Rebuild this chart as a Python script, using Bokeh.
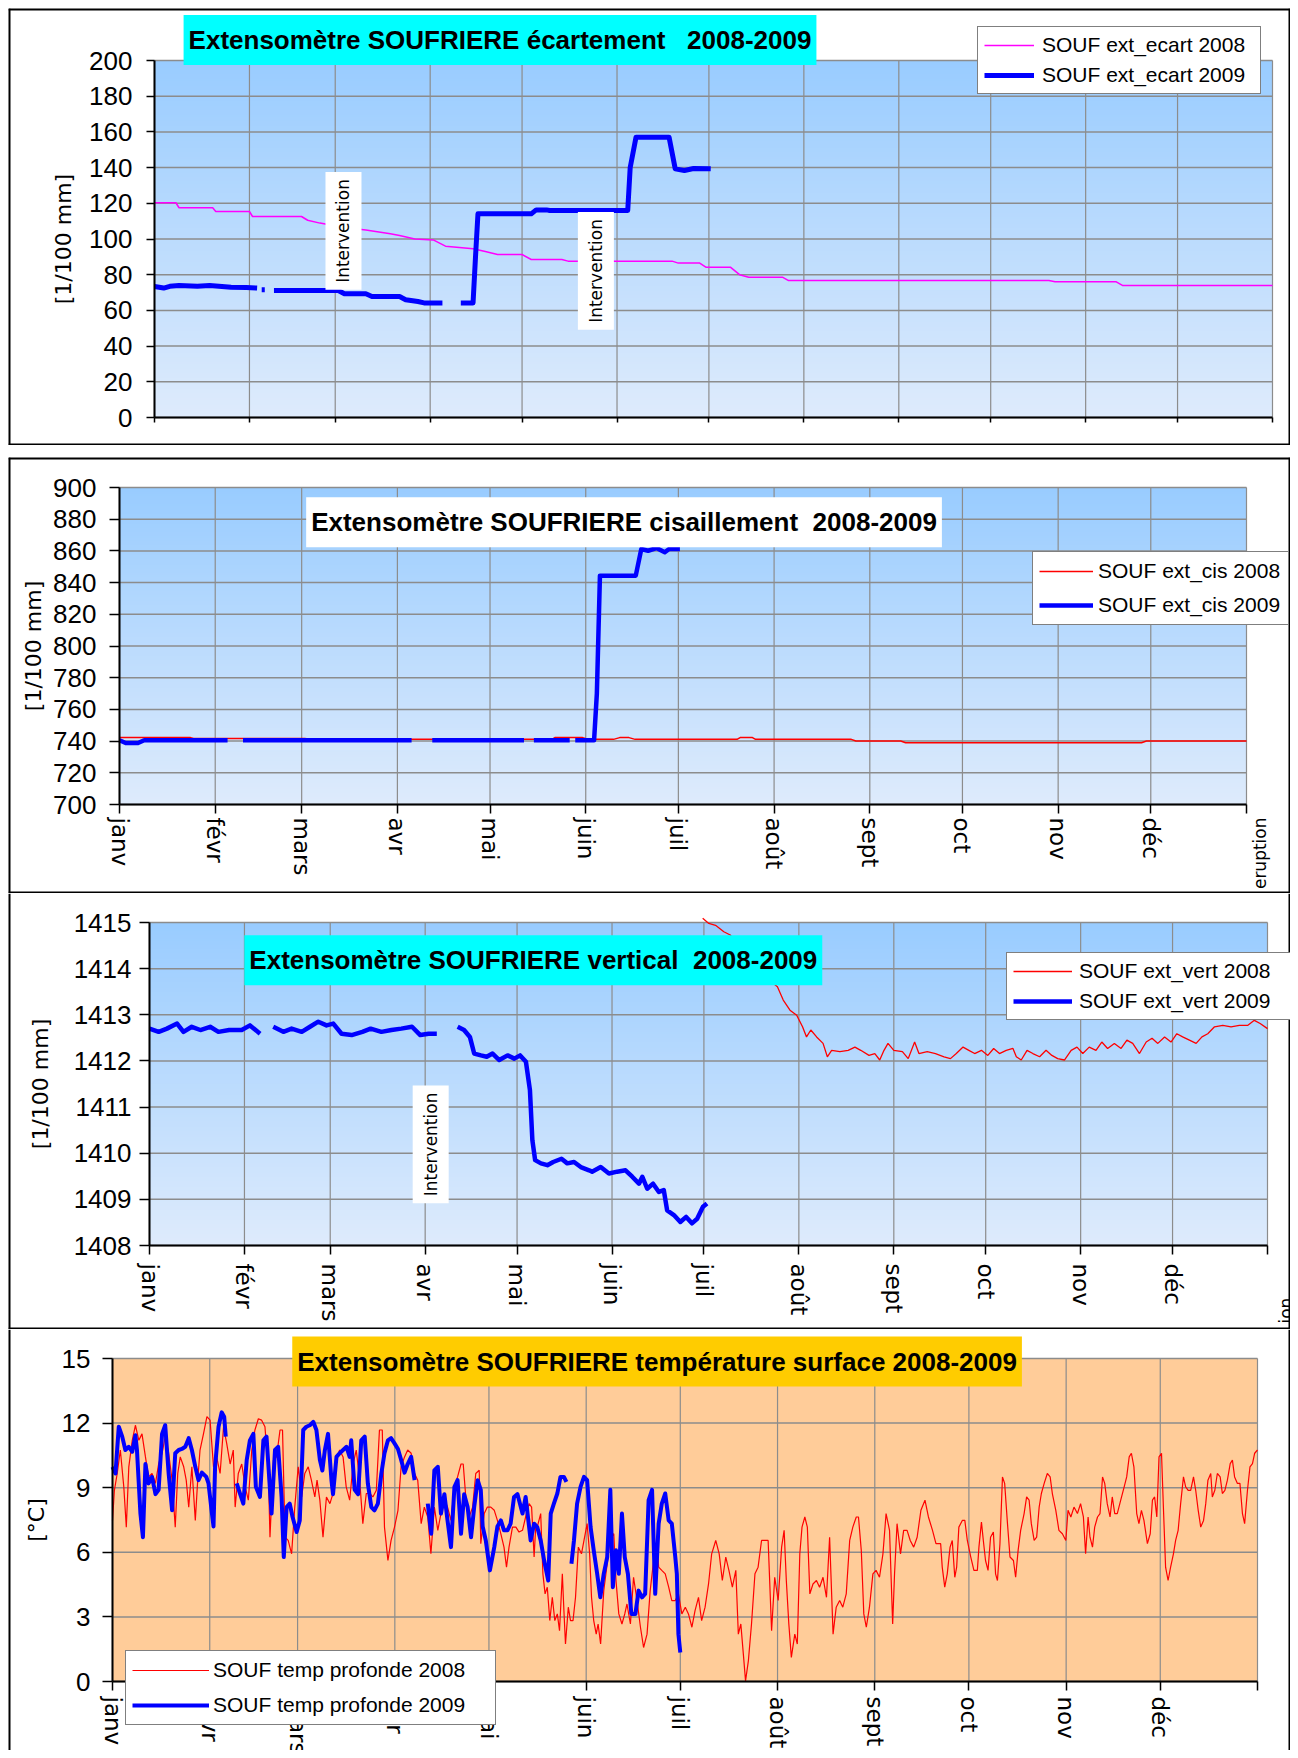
import math
import numpy as np
from bokeh.plotting import figure
from bokeh.models import Range1d, Legend, LegendItem, Label, Spacer, Span
from bokeh.layouts import column
from bokeh.embed import file_html
from bokeh.resources import INLINE

nan = float("nan")

# ---------------- categories / ticks ----------------
MONTHS = ["janv", "févr", "mars", "avr", "mai", "juin", "juil", "août", "sept", "oct", "nov", "déc"]
MONTH_START = [0, 31, 59, 90, 120, 151, 181, 212, 243, 273, 304, 334, 365]

ECART_TICKS = [0, 20, 40, 60, 80, 100, 120, 140, 160, 180, 200]
CIS_TICKS = [700, 720, 740, 760, 780, 800, 820, 840, 860, 880, 900]
VERT_TICKS = [1408, 1409, 1410, 1411, 1412, 1413, 1414, 1415]
TEMP_TICKS = [0, 3, 6, 9, 12, 15]

# ---------------- panel 1 : écartement ----------------
ecart08_day = [0, 7, 8, 19, 20, 31, 32, 48, 50, 54, 62, 69, 77, 80, 85, 91, 95, 104, 108, 112, 120, 123, 133, 135,
               169, 171, 178, 180, 188, 191, 194, 205, 207, 292, 294, 314, 316, 365]
ecart08_val = [120.3, 120.3, 117.5, 117.5, 115.4, 115.4, 112.6, 112.6, 110.5, 108.9, 106.5, 105.0, 103.0, 102.0, 100.0,
               99.5, 96.0, 94.5, 93.0, 91.3, 91.3, 88.5, 88.5, 87.6, 87.6, 86.5, 86.5, 84.2, 84.2, 80.0, 78.6, 78.6,
               76.7, 76.7, 76.0, 76.0, 74.0, 74.0]

ecart09_day = [0, 3, 5, 8, 14, 18, 25, 30, 33.5, nan, 35, 36, nan, 39, 60, 62, 69, 71, 80, 82, 86, 88, 94, nan,
               96.5, nan, 100, 104, 104.8, 105.6, 123, 124.6, 128, 129, 154.5, 155.3, 157.2, 168, 170, 173, 176, 181.6]
ecart09_val = [73.4, 72.5, 73.5, 74.0, 73.5, 74.0, 73.0, 72.8, 72.5, nan, 71.5, 71.5, nan, 71.1, 71.1, 69.3, 69.3,
               67.8, 67.8, 66.0, 65.0, 64.2, 64.2, nan, 64.2, nan, 64.2, 64.2, 90.0, 114.1, 114.1, 116.3, 116.3,
               116.0, 116.0, 140.0, 157.0, 157.0, 139.3, 138.4, 139.5, 139.3]

# ---------------- panel 2 : cisaillement ----------------
cis08_day = [0, 23, 24, 60, 62, 140, 141, 150, 152, 160, 162, 165, 167, 200, 201, 205, 206, 237, 238.5, 253, 254.6,
             331, 332.6, 365]
cis08_val = [742.2, 742.2, 741.6, 741.6, 741.1, 741.1, 742.2, 742.2, 741.1, 741.1, 742.2, 742.2, 741.1, 741.1,
             742.2, 742.2, 741.1, 741.1, 740.1, 740.1, 739.0, 739.0, 740.1, 740.1]

cis09_day = [0, 2, 6, 8, 35, nan, 40, 94.6, nan, 101.3, 131, nan, 134.2, 145.8, nan, 147.6, 153.7, 154.6, 155.6,
             167.2, 169, 171.2, 173.9, 176.6, 178, 181.5]
cis09_val = [740.5, 738.8, 738.8, 740.5, 740.5, nan, 740.5, 740.5, nan, 740.5, 740.5, nan, 740.5, 740.5, nan,
             740.5, 740.5, 769.9, 844.4, 844.4, 861.2, 860.1, 861.8, 859.1, 861.2, 861.2]

# ---------------- panel 3 : vertical ----------------
vert08_day = [180.6, 182.6, 184.8, 187.5, 189.6, 191.5, 194.2, 196.9, 199.6, 202.4, 205.0, 206.9, 209.1, 211.3,
              213.2, 214.5, 215.9, 217.8, 219.9, 221.3, 222.7, 225.4, 228.1, 230.3, 232.2, 234.9, 236.8, 238.4,
              239.8, 241.1, 243.0, 245.8, 247.7, 249.8, 251.2, 253.9, 256.6, 259.4, 261.5, 263.4, 265.6, 267.5,
              269.4, 271.6, 273.7, 275.6, 277.5, 279.7, 281.9, 283.0, 284.6, 286.5, 288.4, 290.6, 292.7, 294.6,
              296.5, 298.7, 300.9, 302.8, 304.7, 306.8, 309.0, 310.9, 312.8, 315.0, 317.2, 319.1, 321.0, 323.2,
              325.4, 327.3, 329.2, 331.4, 333.5, 335.4, 337.3, 339.5, 341.7, 343.6, 345.5, 347.7, 350.4, 353.1,
              355.8, 358.5, 360.7, 362.6, 365.0]
vert08_val = [1415.09, 1414.98, 1414.94, 1414.80, 1414.73, 1414.54, 1414.26, 1414.08, 1413.89, 1413.75, 1413.61,
              1413.32, 1413.10, 1412.99, 1412.74, 1412.52, 1412.67, 1412.52, 1412.38, 1412.09, 1412.23, 1412.20,
              1412.23, 1412.30, 1412.23, 1412.12, 1412.16, 1412.02, 1412.23, 1412.38, 1412.23, 1412.20, 1412.05,
              1412.41, 1412.16, 1412.20, 1412.16, 1412.09, 1412.05, 1412.16, 1412.30, 1412.23, 1412.16, 1412.23,
              1412.12, 1412.27, 1412.16, 1412.23, 1412.27, 1412.09, 1412.02, 1412.23, 1412.16, 1412.09, 1412.23,
              1412.12, 1412.05, 1412.02, 1412.23, 1412.30, 1412.16, 1412.30, 1412.23, 1412.41, 1412.27, 1412.38,
              1412.27, 1412.45, 1412.38, 1412.16, 1412.41, 1412.49, 1412.38, 1412.52, 1412.41, 1412.59, 1412.52,
              1412.45, 1412.38, 1412.52, 1412.59, 1412.74, 1412.77, 1412.74, 1412.77, 1412.77, 1412.88, 1412.81,
              1412.70]

vert09_day = [0, 3.0, 5.7, 9.0, 11.1, 13.8, 16.6, 19.8, 22.5, 26.0, 30.1, 32.8, 36.1, nan, 40.4, 43.7, 46.4, 49.7,
              52.4, 55.1, 57.8, 60.0, 62.7, 66.0, 69.5, 72.2, 75.7, 79.0, 82.2, 85.7, 88.4, 91.1, 93.8, nan, 100.6,
              102.7, 104.6, 106.0, 108.2, 110.1, 112.0, 114.2, 116.9, 119.1, 121.0, 122.9, 124.2, 125.0, 125.9,
              127.8, 129.9, 131.8, 134.5, 136.4, 138.6, 140.8, 143.5, 144.5, 147.3, 150.0, 152.7, 155.4, 157.6,
              159.8, 160.9, 162.5, 164.4, 166.3, 167.9, 169.0, 171.2, 173.3, 175.2, 177.1, 178.8, 180.7, 182.0]
vert09_val = [1412.70, 1412.63, 1412.70, 1412.81, 1412.63, 1412.74, 1412.67, 1412.74, 1412.63, 1412.67, 1412.67,
              1412.77, 1412.59, nan, 1412.74, 1412.63, 1412.70, 1412.63, 1412.74, 1412.85, 1412.77, 1412.81,
              1412.59, 1412.56, 1412.63, 1412.70, 1412.63, 1412.67, 1412.70, 1412.74, 1412.56, 1412.59, 1412.59,
              nan, 1412.74, 1412.67, 1412.52, 1412.16, 1412.12, 1412.09, 1412.16, 1412.02, 1412.12, 1412.05,
              1412.12, 1411.98, 1411.37, 1410.28, 1409.85, 1409.78, 1409.74, 1409.81, 1409.88, 1409.78, 1409.81,
              1409.70, 1409.63, 1409.60, 1409.70, 1409.56, 1409.60, 1409.63, 1409.49, 1409.34, 1409.49, 1409.23,
              1409.34, 1409.16, 1409.20, 1408.76, 1408.66, 1408.51, 1408.62, 1408.48, 1408.58, 1408.84, 1408.91]

# ---------------- panel 4 : température ----------------
temp08_day = [0.0, 0.6, 1.5, 2.5, 3.6, 4.4, 5.2, 6.3, 7.3, 8.4, 9.4, 10.5, 11.5, 12.6, 13.7, 14.7, 15.8, 16.8, 17.9,
              19.0, 20.0, 20.8, 21.6, 22.7, 23.5, 24.3, 25.3, 26.4, 27.1, 27.9, 29.0, 30.1, 31.1, 32.2, 33.2, 34.3,
              35.4, 36.4, 37.5, 38.5, 39.1, 40.1, 41.2, 42.3, 43.3, 44.4, 45.4, 46.5, 47.5, 48.6, 49.7, 50.2, 51.3,
              52.3, 53.4, 54.2, 55.0, 56.0, 57.1, 58.1, 59.2, 60.3, 61.3, 62.4, 63.4, 64.5, 65.2, 66.1, 67.1, 68.2,
              69.3, 70.3, 71.4, 72.4, 73.5, 74.5, 75.6, 76.7, 77.7, 78.8, 79.8, 80.9, 82.0, 83.0, 84.1, 85.1, 86.0,
              86.7, 87.8, 88.8, 89.9, 91.0, 92.0, 93.1, 94.1, 95.2, 96.3, 97.3, 98.4, 99.4, 100.5, 101.5, 102.6,
              103.7, 104.7, 105.8, 106.8, 107.9, 109.0, 110.0, 111.1, 111.8, 112.7, 113.7, 114.8, 115.8, 116.9,
              117.4, 118.5, 119.5, 120.6, 121.7, 122.7, 123.8, 124.8, 125.6, 126.4, 127.5, 128.6, 129.6,
              130.7, 131.7, 132.8, 133.6, 134.4, 134.9, 135.4, 136.5, 137.2, 137.9, 138.6, 139.4, 140.2, 141.0,
              141.8, 142.5, 143.4, 143.9, 144.4, 145.3, 146.0, 146.8, 147.6, 148.5, 149.5, 150.3, 151.3, 152.1,
              152.7, 153.4, 154.2, 154.8, 155.6, 156.6, 157.7, 158.7, 159.8, 160.5, 161.4, 162.4, 163.3, 164.0,
              165.1, 166.1, 167.2, 168.3, 169.3, 170.4, 171.4, 172.5, 173.6, 174.1, 175.1, 176.2, 177.3, 178.3,
              179.4, 180.4, 181.5, 182.6, 183.6, 184.7, 185.7, 186.8, 187.8, 188.9, 190.0, 191.0, 192.3, 193.4,
              194.4, 195.5, 196.5, 197.6, 198.7, 199.5, 200.3, 201.1, 201.8, 202.7, 203.7, 204.8, 205.8, 206.9,
              208.0, 209.0, 210.1, 211.1, 212.2, 213.3, 214.1, 214.8, 215.6, 216.4, 217.5, 218.3, 219.1, 219.8,
              220.7, 221.5, 222.3, 223.3, 224.4, 225.4, 226.5, 227.6, 228.6, 229.7, 230.7, 231.8, 232.8, 233.9,
              235.0, 236.0, 237.1, 237.8, 238.7, 239.5, 240.3, 241.3, 242.4, 243.4, 244.5, 245.6, 246.6, 247.7,
              248.7, 249.3, 250.1, 251.2, 252.2, 253.3, 254.3, 255.4, 256.5, 257.7, 259.0, 260.1, 261.4, 262.5,
              264.0, 264.5, 265.3, 266.1, 267.0, 267.7, 268.5, 269.1, 269.8, 270.9, 271.7, 272.5, 273.6, 274.6,
              275.7, 276.2, 277.0, 277.6, 278.3, 279.1, 279.9, 280.8, 281.5, 282.1, 282.9, 283.7, 284.4, 285.3,
              286.1, 287.2, 287.9, 288.7, 289.5, 290.6, 291.4, 292.2, 292.9, 293.8, 294.6, 295.4, 296.1, 297.0,
              298.0, 298.9, 299.6, 300.7, 301.7, 302.8, 303.9, 304.6, 305.5, 306.5, 307.6, 308.6, 309.5, 310.2,
              311.0, 311.6, 312.4, 313.1, 314.0, 314.8, 315.6, 316.3, 317.1, 318.0, 318.7, 319.5, 320.3, 321.4,
              322.5, 323.3, 324.1, 324.8, 325.6, 326.5, 327.2, 328.0, 328.8, 329.9, 330.8, 331.5, 332.2, 332.9,
              333.6, 334.4, 335.0, 335.7, 336.5, 337.3, 338.2, 338.9, 339.7, 340.5, 341.4, 342.1, 342.9, 343.7,
              344.6, 345.3, 346.1, 346.9, 347.8, 348.5, 349.2, 350.1, 350.6, 351.4, 352.2, 353.1, 353.8, 354.6,
              355.4, 356.3, 357.0, 357.7, 358.6, 359.4, 360.2, 360.9, 361.8, 362.6, 363.4, 364.1, 365.0]
temp08_val = [7.48, 8.88, 9.66, 10.75, 9.04, 7.17, 9.97, 11.2, 11.9, 11.2, 11.5, 10.43, 9.5, 9.66, 9.2, 10.1, 10.6,
              11.37, 10.6, 9.35, 7.17, 9.66, 10.43, 9.97, 9.35, 8.1, 9.97, 7.48, 9.2, 10.75, 11.5, 12.3, 12.14, 9.97,
              10.43, 9.66, 11.83, 11.06, 10.1, 10.75, 8.1, 9.66, 10.1, 9.04, 8.42, 10.75, 11.68, 12.2, 12.14, 11.83,
              9.66, 6.7, 10.28, 10.43, 11.68, 11.68, 6.7, 6.55, 5.93, 8.1, 9.97, 8.57, 9.66, 9.97, 9.35, 8.57, 9.35,
              8.42, 6.7, 8.57, 8.26, 8.73, 10.28, 10.75, 10.43, 9.04, 8.42, 10.1, 10.75, 9.35, 7.33, 8.73, 8.73,
              8.57, 8.88, 11.68, 11.68, 7.17, 5.62, 6.55, 7.17, 7.95, 9.97, 10.43, 10.75, 10.6, 9.66, 9.35, 7.33,
              8.1, 7.64, 5.93, 8.1, 7.02, 7.8, 8.42, 8.1, 7.48, 9.04, 9.5, 10.1, 10.1, 8.42, 7.64, 8.1, 9.66, 9.81,
              6.4, 7.8, 8.1, 8.1, 7.95, 7.48, 6.86, 6.24, 5.31, 6.24, 7.17, 7.17, 6.94,
              7.02, 7.64, 8.26, 8.1, 5.78, 7.17, 7.17, 7.8, 5.0, 4.07, 4.38, 2.83, 3.91, 2.83, 3.14, 2.36, 5.0,
              3.29, 1.74, 3.45, 2.83, 2.83, 3.91, 6.24, 5.93, 6.55, 7.33, 5.93, 3.91, 2.83, 2.2, 2.67, 1.74, 4.22,
              5.47, 6.7, 6.86, 4.69, 3.14, 2.67, 3.14, 3.6, 2.67, 4.84, 3.76, 2.52, 1.58, 2.2, 4.22, 5.62, 6.4,
              5.31, 5.16, 5.0, 4.38, 3.76, 3.76, 4.07, 3.14, 3.45, 3.14, 2.52, 3.29, 3.91, 2.83, 3.45, 4.53, 5.93,
              6.55, 5.93, 4.69, 5.78, 5.16, 4.38, 5.16, 2.2, 2.67, 1.27, 0.03, 0.96, 2.67, 5.0, 5.31, 6.55, 6.55,
              6.55, 2.36, 4.84, 3.76, 6.24, 7.02, 4.69, 2.67, 1.12, 2.2, 1.74, 5.93, 7.17, 7.64, 7.17, 4.07, 4.53,
              4.69, 4.38, 4.84, 3.91, 6.7, 2.2, 3.45, 3.76, 3.45, 4.07, 6.55, 7.17, 7.64, 7.64, 6.08, 3.14, 2.52,
              3.45, 5.0, 5.16, 4.84, 5.93, 7.8, 7.02, 2.67, 5.0, 7.33, 5.93, 7.02, 7.02, 6.55, 6.24, 6.7, 7.95,
              8.42, 7.64, 7.02, 6.4,
              6.4, 5.31, 4.38, 5.0, 6.24, 6.55, 4.84, 5.31, 7.17, 7.48, 7.48, 6.55, 5.78, 5.16, 5.16, 6.24, 7.41,
              6.55, 5.62, 5.16, 6.7, 6.94, 5.0, 4.69, 6.4, 9.5, 9.2, 7.33, 5.78, 5.62, 4.84, 6.1, 7.02, 7.8, 8.57,
              8.42, 7.33, 6.55, 6.7, 8.1, 8.73, 9.2, 9.66, 9.5, 8.73, 7.95, 7.02, 6.86, 6.55, 7.95, 7.64, 8.1, 7.8,
              8.26, 7.64, 5.93, 7.64, 6.7, 6.24, 7.17, 7.64, 7.8, 9.5, 9.2, 8.26, 7.64, 8.57, 7.8, 7.8, 8.42, 9.04,
              9.5, 10.43, 10.6, 9.97, 7.8, 7.33, 7.95, 7.48, 6.4, 6.86, 8.42, 8.57, 7.64, 10.43, 10.6, 8.1, 5.31,
              4.69, 5.31, 5.93, 6.55, 7.02, 8.26, 9.5, 9.04, 8.88, 8.88, 9.5, 8.88, 7.95, 7.17, 7.48, 8.26, 9.35,
              9.66, 8.57, 8.88, 9.66, 9.5, 8.73, 8.88, 9.35, 10.12, 10.28, 9.5, 9.2, 9.2, 7.8, 7.33, 8.88, 9.97,
              10.12, 10.6, 10.75]

temp09_day = [0.0, 0.95, 2.0, 3.1, 4.1, 5.2, 6.3, 7.3, 7.8, 8.9, 9.7, 10.5, 11.5, 12.6, 13.7, 14.7, 15.8, 16.8, 17.9,
              19.0, 20.0, 21.1, 22.1, 23.2, 24.3, 25.3, 26.4, 27.4, 28.5, 29.9, 30.6, 31.7, 32.2, 32.7, 33.8, 34.8,
              35.6, 36.1, nan, 39.6, 40.7, 41.7, 42.8, 43.8, 44.9, 45.7, 47.0, 48.1, 49.1, 50.2, 50.7, 51.8, 52.8,
              53.9, 54.6, 55.5, 56.5, 57.4, 58.7, 59.7, 60.8, 61.8, 62.9, 64.0, 65.0, 66.1, 66.9, 67.7, 68.7, 69.8,
              70.3, 71.4, 72.4, 73.5, 74.6, 75.6, 76.1, 77.2, 78.3, 79.3, 80.4, 81.4, 82.5, 83.5, 84.6, 85.7, 86.7,
              87.8, 88.8, 89.9, 91.0, 92.0, 93.1, 94.1, 95.2, 96.3, nan, 100.5, 101.6, 102.6, 103.7, 104.7, 105.8,
              106.8, 107.9, 109.0, 110.0, 111.1, 112.1, 113.2, 114.3, 115.3, 116.4, 117.4, 118.0, 119.0, 120.3,
              121.7, 122.7, 123.8, 124.8, 125.9, 126.9, 128.0, 129.1, 130.7, 131.7, 133.3, 134.4, 135.4, 136.5,
              137.6, 138.9, 139.7, 140.7, 141.8, 142.8, 143.9, 144.7, nan, 146.3, 147.1, 148.1, 149.2, 150.3, 151.3,
              152.4, 153.4, 154.5, 155.5, 156.6, 157.7, 158.7, 159.5, 160.5, 161.4, 162.4, 163.3, 164.3, 165.4,
              166.7, 167.7, 168.8, 169.8, 170.9, 172.0, 173.0, 174.1, 175.1, 176.2, 177.3, 178.3, 179.4, 179.9,
              180.4, 181.0]
temp09_val = [9.97, 9.66, 11.83, 11.37, 10.75, 10.9, 10.67, 11.44, 10.75, 7.8, 6.7, 10.1, 9.2, 9.5, 8.7, 8.9, 11.5,
              11.9, 9.66, 7.95, 10.6, 10.75, 10.8, 10.9, 11.3, 10.75, 9.97, 9.35, 9.7, 9.5, 9.2, 7.8, 7.2, 9.97,
              11.83, 12.5, 12.3, 11.37, nan, 9.2, 8.7, 8.26, 10.3, 11.2, 11.5, 9.04, 8.57, 11.2, 11.37, 8.9, 7.8,
              10.75, 10.9, 8.57, 5.78, 8.1, 8.26, 7.64, 6.94, 7.48, 11.68, 11.83, 11.9, 12.06, 11.68, 10.3, 9.8,
              10.75, 11.5, 9.35, 8.7, 10.43, 10.6, 10.75, 10.9, 10.43, 11.2, 8.9, 8.7, 11.2, 11.37, 9.2, 8.1, 7.95,
              8.26, 9.66, 10.6, 11.2, 11.3, 11.06, 10.8, 10.3, 9.7, 10.1, 10.43, 9.35, nan, 8.26, 6.86, 9.8, 9.97,
              7.8, 8.7, 7.48, 6.24, 9.04, 9.35, 6.86, 8.7, 8.1, 6.7, 8.1, 9.35, 8.9, 7.2, 6.55, 5.16, 6.24, 7.2,
              7.48, 7.02, 7.02, 7.33, 8.57, 8.7, 7.8, 8.57, 6.55, 7.33, 7.17, 6.55, 5.62, 4.69, 7.8, 8.26, 8.73,
              9.5, 9.5, 9.27, nan, 5.47, 6.55, 8.26, 9.04, 9.5, 9.35, 7.17, 6.1, 5.0, 3.91, 5.0, 5.78, 8.9, 4.38,
              6.1, 5.0, 7.8, 5.78, 5.0, 3.14, 3.14, 4.22, 3.91, 4.07, 8.42, 8.9, 4.07, 7.33, 8.26, 8.73, 7.48, 7.33,
              5.78, 5.0, 2.2, 1.35]

# ---------------- styling ----------------
GRID = "#8c8c8c"
NUM_FONT = "Liberation Sans"
ROT_FONT = "DejaVu Sans"
BLUE_TOP = (153, 204, 255)
BLUE_BOTTOM = (222, 235, 252)
PEACH = (255, 204, 153)
PANEL_W = 1282


def fill_image(top, bottom, n=160):
    img = np.empty((n, 1), dtype=np.uint32)
    v = img.view(dtype=np.uint8).reshape((n, 1, 4))
    for i in range(n):
        t = i / (n - 1)
        for c in range(3):
            v[i, 0, c] = int(round(bottom[c] + (top[c] - bottom[c]) * t))
        v[i, 0, 3] = 255
    return img


def make_panel(height, area, y0, y1, yticks, sides, ylabel, y_tick_out, y_standoff, ylabel_standoff,
               xlabels, x_tick_out, x_standoff, fill_top, fill_bottom):
    # area = plot-area edges in canvas pixels (left, right, top, bottom)
    L, R, T, B = area
    kx = 365.0 / (R - L)
    ky = (y1 - y0) / (B - T)
    xr = Range1d(-L * kx, 365 + (PANEL_W - R) * kx)
    yr = Range1d(y0 - (height - B) * ky, y1 + T * ky)
    p = figure(width=PANEL_W, height=height, x_range=xr, y_range=yr, output_backend="svg",
               toolbar_location=None, min_border=0, min_border_left=0, min_border_right=0,
               min_border_top=0, min_border_bottom=0)
    p.border_fill_color = "white"
    p.background_fill_color = "white"
    p.outline_line_color = None
    p.grid.visible = False

    p.image_rgba(image=[fill_image(fill_top, fill_bottom)], x=0, y=y0, dw=365, dh=y1 - y0, level="image")
    nx, ny = len(MONTH_START), len(yticks)
    p.segment(x0=MONTH_START, y0=[y0] * nx, x1=MONTH_START, y1=[y1] * nx, line_color=GRID, line_width=1.2)
    p.segment(x0=[0] * ny, y0=yticks, x1=[365] * ny, y1=yticks, line_color=GRID, line_width=1.5)

    # x axis (drawn at the bottom of the plot area)
    xa = p.xaxis[0]
    xa.fixed_location = y0
    xa.bounds = (0, 365)
    xa.ticker = MONTH_START
    if xlabels:
        overrides = {d: m for d, m in zip(MONTH_START[:-1], MONTHS)}
        overrides[365] = ""
    else:
        overrides = {d: "" for d in MONTH_START}
    xa.major_label_overrides = overrides
    xa.major_label_orientation = "vertical"
    xa.major_label_text_font = ROT_FONT
    xa.major_label_text_font_size = "23px" if xlabels else "1px"
    xa.major_label_text_color = "black"
    xa.major_label_standoff = x_standoff
    xa.major_tick_in = 0
    xa.major_tick_out = x_tick_out
    xa.major_tick_line_color = "black"
    xa.major_tick_line_width = 1.5
    xa.minor_tick_line_color = None
    xa.axis_line_color = "black"
    xa.axis_line_width = 2

    # y axis (drawn at the left of the plot area)
    ya = p.yaxis[0]
    ya.fixed_location = 0
    ya.bounds = (y0, y1)
    ya.ticker = yticks
    ya.major_label_text_font = NUM_FONT
    ya.major_label_text_font_size = "26px"
    ya.major_label_text_color = "black"
    ya.major_label_standoff = y_standoff
    ya.major_tick_in = 0
    ya.major_tick_out = y_tick_out
    ya.major_tick_line_color = "black"
    ya.major_tick_line_width = 1.5
    ya.minor_tick_line_color = None
    ya.axis_line_color = "black"
    ya.axis_line_width = 2
    ya.axis_label = ylabel
    ya.axis_label_text_font = ROT_FONT
    ya.axis_label_text_font_size = "22px"
    ya.axis_label_text_font_style = "normal"
    ya.axis_label_text_color = "black"
    ya.axis_label_standoff = ylabel_standoff

    # panel frame (outer box)
    edges = {"left": (xr.start, "height"), "right": (xr.end, "height"),
             "top": (yr.end, "width"), "bottom": (yr.start, "width")}
    for s in sides:
        loc, dim = edges[s]
        p.add_layout(Span(location=loc, dimension=dim, line_color="black", line_width=4))
    return p


def add_title(p, x, y, text, fill):
    p.add_layout(Label(x=x, y=y, text=text, text_align="center", text_baseline="middle",
                       text_font=NUM_FONT, text_font_size="26px", text_font_style="bold", text_color="black",
                       background_fill_color=fill, background_fill_alpha=1.0, padding=(5, 10)))


def add_intervention(p, x, y):
    p.add_layout(Label(x=x, y=y, text="Intervention", angle=math.pi / 2, text_align="center",
                       text_baseline="middle", text_font=ROT_FONT, text_font_size="17px", text_color="black",
                       background_fill_color="white", background_fill_alpha=1.0, padding=(7, 8)))


def add_legend(p, items, loc, glyph_w, label_w, row_h, spacing, standoff):
    lg = Legend(items=items, location=loc, orientation="vertical", padding=6, spacing=spacing, margin=0,
                glyph_width=glyph_w, glyph_height=row_h, label_height=row_h, label_width=label_w,
                label_standoff=standoff, label_text_font=NUM_FONT, label_text_font_size="21px",
                label_text_color="black", border_line_color="black", border_line_width=1.5,
                background_fill_color="white", background_fill_alpha=1.0)
    p.add_layout(lg, "center")


# ---------------- panel 1 ----------------
p1 = make_panel(437, (146, 1264, 52, 409), 0, 200, ECART_TICKS, ("left", "right", "top", "bottom"),
                "[1/100 mm]", 8, 14, 10, False, 5, 2, BLUE_TOP, BLUE_BOTTOM)
r1a = p1.line(ecart08_day, ecart08_val, line_color="#FF00FF", line_width=1.5)
r1b = p1.line(ecart09_day, ecart09_val, line_color="#0000FF", line_width=5, line_join="round")
add_title(p1, 112.8, 211.5, "Extensomètre SOUFRIERE écartement\u00a0\u00a0 2008-2009", "#00FFFF")
add_intervention(p1, 61.7, 104.5)
add_intervention(p1, 144.1, 82.1)
add_legend(p1, [LegendItem(label="SOUF ext_ecart 2008", renderers=[r1a]),
                LegendItem(label="SOUF ext_ecart 2009", renderers=[r1b])],
           (969, 351), 50, 212, 24, 6, 8)

# ---------------- panel 2 ----------------
p2 = make_panel(436, (111, 1238, 30, 347), 700, 900, CIS_TICKS, ("left", "right", "top", "bottom"),
                "[1/100 mm]", 10, 13, 4, True, 9, 4, BLUE_TOP, BLUE_BOTTOM)
r2a = p2.line(cis08_day, cis08_val, line_color="#FF0000", line_width=1.5)
r2b = p2.line(cis09_day, cis09_val, line_color="#0000FF", line_width=4.5, line_join="round")
add_title(p2, 163.4, 878.0, "Extensomètre SOUFRIERE cisaillement\u00a0 2008-2009", "white")
p2.add_layout(Label(x=369.5, y=691.8, text="eruption", angle=math.pi / 2, text_align="right",
                    text_baseline="middle", text_font=ROT_FONT, text_font_size="17px", text_color="black"))
add_legend(p2, [LegendItem(label="SOUF ext_cis 2008", renderers=[r2a]),
                LegendItem(label="SOUF ext_cis 2009", renderers=[r2b])],
           (1024, 268), 54, 184, 26, 8, 5)

# ---------------- panel 3 ----------------
p3 = make_panel(436, (141, 1259, 29, 352), 1408, 1415, VERT_TICKS, ("left", "right", "bottom"),
                "[1/100 mm]", 10, 8, 18, True, 9, 9, BLUE_TOP, BLUE_BOTTOM)
r3a = p3.line(vert08_day, vert08_val, line_color="#FF0000", line_width=1.3)
r3b = p3.line(vert09_day, vert09_val, line_color="#0000FF", line_width=4.5, line_join="round")
add_title(p3, 125.3, 1414.18, "Extensomètre SOUFRIERE vertical\u00a0 2008-2009", "#00FFFF")
add_intervention(p3, 91.8, 1410.19)
p3.add_layout(Label(x=371.2, y=1406.87, text="ion", angle=math.pi / 2, text_align="right",
                    text_baseline="middle", text_font=ROT_FONT, text_font_size="17px", text_color="black"))
add_legend(p3, [LegendItem(label="SOUF ext_vert 2008", renderers=[r3a]),
                LegendItem(label="SOUF ext_vert 2009", renderers=[r3b])],
           (998, 309), 59, 205, 24, 6, 7)

# ---------------- panel 4 ----------------
p4 = make_panel(421, (104, 1249, 29, 352), 0, 15, TEMP_TICKS, ("left", "right"),
                "[°C]", 10, 12, 10, True, 9, 6, PEACH, PEACH)
r4a = p4.line(temp08_day, temp08_val, line_color="#FF0000", line_width=1.2)
r4b = p4.line(temp09_day, temp09_val, line_color="#0000FF", line_width=4, line_join="round")
add_title(p4, 173.6, 14.86, "Extensomètre SOUFRIERE température surface 2008-2009", "#FFCC00")
add_legend(p4, [LegendItem(label="SOUF temp profonde 2008", renderers=[r4a]),
                LegendItem(label="SOUF temp profonde 2009", renderers=[r4b])],
           (117, 25), 77, 276, 26, 9, 4)

layout = column(p1, Spacer(width=PANEL_W, height=12), p2, p3, p4, spacing=0, margin=(8, 0, 0, 8))
open("out.html", "w").write(file_html(layout, INLINE))
